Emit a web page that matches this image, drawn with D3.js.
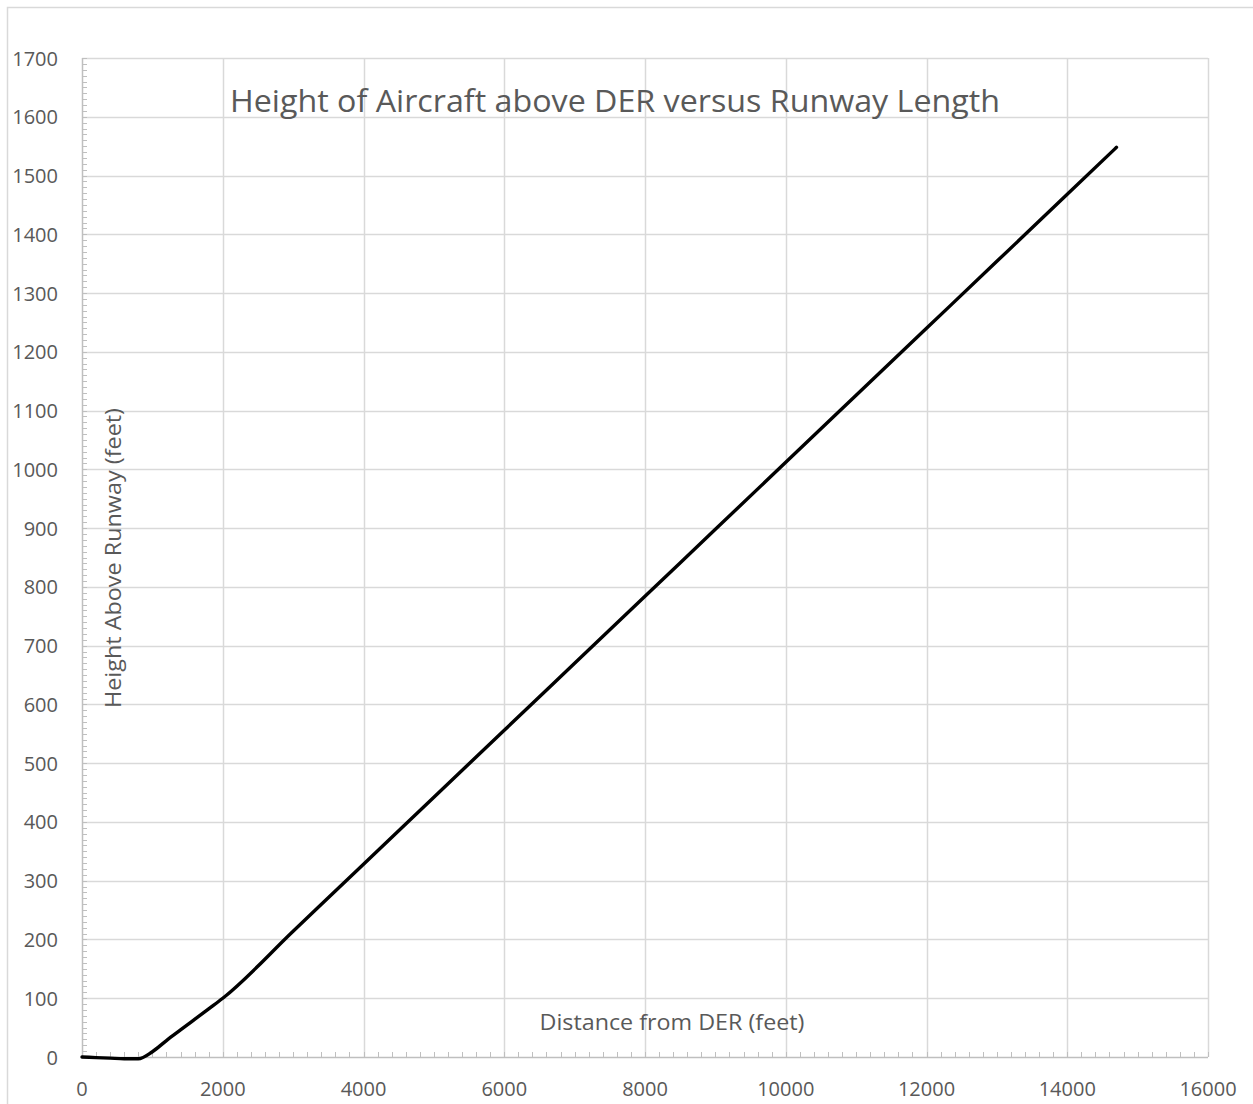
<!DOCTYPE html>
<html><head><meta charset="utf-8">
<script src="https://cdn.jsdelivr.net/npm/d3@7"></script>
<style>body{margin:0;background:#fff}svg{display:block}</style>
</head><body>
<script>
const distance = [0, 200, 400, 600, 800, 1000, 1200, 1400, 1600, 1800, 2000, 3000, 4000, 5000, 6000, 7000, 8000, 9000, 10000, 11000, 12000, 13000, 14000, 14700];
const height   = [0, -1, -2, -3, -3, 9, 28, 46, 64, 82, 100, 214, 328, 442, 556, 670, 784, 898, 1012, 1126, 1240, 1354, 1468, 1548];
const xTicks = [0, 2000, 4000, 6000, 8000, 10000, 12000, 14000, 16000];
const yTicks = [0, 100, 200, 300, 400, 500, 600, 700, 800, 900, 1000, 1100, 1200, 1300, 1400, 1500, 1600, 1700];
const title = "Height of Aircraft above DER versus Runway Length";
const xTitle = "Distance from DER (feet)";
const yTitle = "Height Above Runway (feet)";

const W = 1253, H = 1104;
const L = 82, R = 1208, T = 58, B = 1057;
const font = "'Open Sans', Lato, sans-serif";
const svg = d3.select("body").append("svg").attr("width", W).attr("height", H);
svg.append("rect").attr("x", 7.5).attr("y", 7.5).attr("width", 1270).attr("height", 1120)
  .attr("fill", "#fff").attr("stroke", "#d9d9d9").attr("stroke-width", 1.5);

const x = d3.scaleLinear().domain([0, 16000]).range([L, R]);
const y = d3.scaleLinear().domain([0, 1700]).range([B, T]);

// gridlines
svg.append("g").selectAll("line").data(xTicks.slice(1)).join("line")
  .attr("x1", d => Math.round(x(d)) + 0.5).attr("x2", d => Math.round(x(d)) + 0.5)
  .attr("y1", T).attr("y2", B).attr("stroke", "#d9d9d9").attr("stroke-width", 1.5);
svg.append("g").selectAll("line").data(yTicks.slice(1)).join("line")
  .attr("y1", d => Math.round(y(d)) + 0.5).attr("y2", d => Math.round(y(d)) + 0.5)
  .attr("x1", L).attr("x2", R).attr("stroke", "#d9d9d9").attr("stroke-width", 1.5);

// minor ticks
const xMinor = d3.range(0, 16001, 200);
const yMinor = d3.range(0, 1701, 10);
svg.append("g").selectAll("line").data(xMinor).join("line")
  .attr("x1", d => Math.round(x(d)) + 0.5).attr("x2", d => Math.round(x(d)) + 0.5)
  .attr("y1", B).attr("y2", B - 5).attr("stroke", "#bfbfbf").attr("stroke-width", 1);
svg.append("g").selectAll("line").data(yMinor).join("line")
  .attr("y1", d => Math.round(y(d)) + 0.5).attr("y2", d => Math.round(y(d)) + 0.5)
  .attr("x1", L).attr("x2", L + 5).attr("stroke", "#bfbfbf").attr("stroke-width", 1);

// axis lines
svg.append("line").attr("x1", L).attr("x2", R).attr("y1", B + 0.5).attr("y2", B + 0.5)
  .attr("stroke", "#bfbfbf").attr("stroke-width", 1.5);
svg.append("line").attr("x1", L + 0.5).attr("x2", L + 0.5).attr("y1", T).attr("y2", B)
  .attr("stroke", "#bfbfbf").attr("stroke-width", 1.5);

// tick labels
svg.append("g").selectAll("text").data(xTicks).join("text")
  .attr("x", d => x(d)).attr("y", 1096).attr("text-anchor", "middle")
  .attr("font-family", font).attr("font-size", 20).attr("fill", "#595959").text(d => d);
svg.append("g").selectAll("text").data(yTicks).join("text")
  .attr("x", 58).attr("y", d => y(d) + 7.5).attr("text-anchor", "end")
  .attr("font-family", font).attr("font-size", 20).attr("fill", "#595959").text(d => d);

// titles
svg.append("text").attr("x", 615).attr("y", 112).attr("text-anchor", "middle")
  .attr("textLength", 770).attr("lengthAdjust", "spacingAndGlyphs")
  .attr("font-family", font).attr("font-size", 31).attr("fill", "#595959").text(title);
svg.append("text").attr("x", 672).attr("y", 1030).attr("text-anchor", "middle")
  .attr("textLength", 265).attr("lengthAdjust", "spacingAndGlyphs")
  .attr("font-family", font).attr("font-size", 22).attr("fill", "#595959").text(xTitle);
svg.append("text").attr("transform", "translate(121,558) rotate(-90)").attr("text-anchor", "middle")
  .attr("textLength", 300).attr("lengthAdjust", "spacingAndGlyphs")
  .attr("font-family", font).attr("font-size", 22).attr("fill", "#595959").text(yTitle);

// line
const line = d3.line().x((d, i) => x(distance[i])).y(d => y(d)).curve(d3.curveMonotoneX);
svg.append("path").datum(height).attr("d", line).attr("fill", "none")
  .attr("stroke", "#000").attr("stroke-width", 3.4).attr("stroke-linecap", "round").attr("stroke-linejoin", "round");
</script>
</body></html>
